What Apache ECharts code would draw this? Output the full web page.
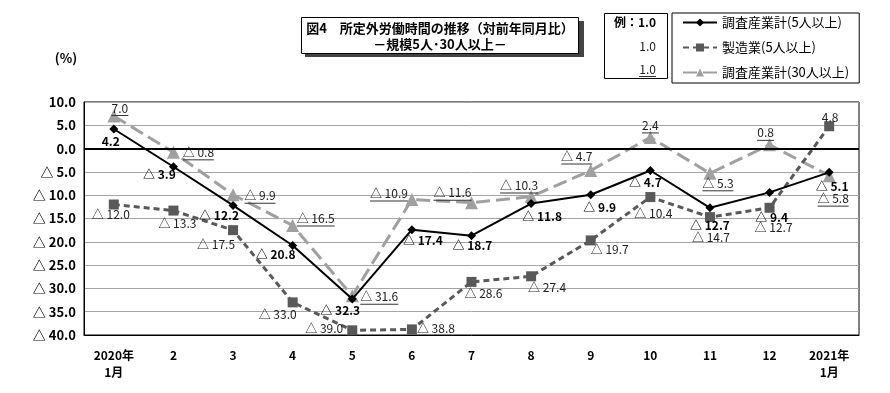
<!DOCTYPE html>
<html><head><meta charset="utf-8">
<script src="https://cdn.jsdelivr.net/npm/echarts@6/dist/echarts.min.js"></script>
<style>html,body{margin:0;padding:0;background:#fff}#c{width:890px;height:393px}</style>
</head><body><div id="c"></div>
<script>
const categories = ['2020年\n1月','2','3','4','5','6','7','8','9','10','11','12','2021年\n1月'];
const seriesNames = ['調査産業計(5人以上)','製造業(5人以上)','調査産業計(30人以上)'];
const s1 = [4.2,-3.9,-12.2,-20.8,-32.3,-17.4,-18.7,-11.8,-9.9,-4.7,-12.7,-9.4,-5.1];
const s2 = [-12.0,-13.3,-17.5,-33.0,-39.0,-38.8,-28.6,-27.4,-19.7,-10.4,-14.7,-12.7,4.8];
const s3 = [7.0,-0.8,-9.9,-16.5,-31.6,-10.9,-11.6,-10.3,-4.7,2.4,-5.3,0.8,-5.8];
const yMin = -40, yMax = 10, yStep = 5;

// label placement (offset from point, px)
const off1 = [[-3,12],[-14,8],[-14,10],[-17,9],[-12,11],[11,11],[1,10],[11,13],[9,13],[-5,12],[0,18],[2,25],[3,14]];
const off2 = [[-3,10],[4,13],[-17,14],[-15,12],[-28,-2],[24,-1],[12,12],[16,11],[19,9],[3,16],[1,20],[4,20],[1,-9]];
const off3 = [[6,-8],[25,0],[27,1],[23,-7],[27,1],[-23,-6],[-19,-10],[-12,-11],[-14,-14],[0,-12],[8,10],[-4,-12],[4,23]];

const FF = "'Liberation Sans Narrow','Noto Sans CJK JP',sans-serif";
const fmt = v => v < 0 ? '△ ' + Math.abs(v).toFixed(1) : v.toFixed(1);
const ctx = document.createElement('canvas').getContext('2d');
function tw(t, font){ ctx.font = font; return ctx.measureText(t).width; }

const d1 = s1.map((v,i)=>({value:v,label:{offset:off1[i]}}));
const d2 = s2.map((v,i)=>({value:v,label:{offset:off2[i]}}));
const d3 = s3.map((v,i)=>({value:v,label:{offset:[off3[i][0],off3[i][1]+1],
  rich:{u:{width:Math.round(tw(fmt(v),'12px '+FF)),height:1,lineHeight:2,backgroundColor:'#333'}}}}));

const chart = echarts.init(document.getElementById('c'));
chart.setOption({
  animation:false,
  textStyle:{fontFamily:FF},
  grid:{left:84,right:31,top:102,bottom:58,show:true,borderColor:'#000',borderWidth:1,backgroundColor:'#fff'},
  legend:{left:672,top:13,orient:'vertical',itemGap:12,itemWidth:34,itemHeight:10,
    borderColor:'#000',borderWidth:1,padding:[3,10,4,10],backgroundColor:'#fff',
    textStyle:{fontSize:13,color:'#000',fontFamily:FF},data:seriesNames},
  xAxis:{type:'category',data:categories,boundaryGap:true,
    axisLine:{onZero:false,lineStyle:{color:'#000'}},axisTick:{show:false},
    axisLabel:{interval:0,color:'#000',fontSize:12,fontWeight:'bold',margin:12,lineHeight:17}},
  yAxis:{type:'value',min:yMin,max:yMax,interval:yStep,
    axisLine:{show:true,lineStyle:{color:'#000'}},axisTick:{show:false},
    axisLabel:{color:'#000',fontSize:13,fontWeight:'bold',margin:8,formatter:v=>fmt(v)},
    splitLine:{lineStyle:{color:'#a6a6a6',width:1}}},
  series:[
    {name:seriesNames[2],type:'line',data:d3,z:2,symbol:'triangle',symbolSize:13,
      itemStyle:{color:'#a0a0a0'},lineStyle:{color:'#a0a0a0',width:3,type:[14,6]},
      label:{show:true,position:'inside',color:'#222',fontSize:12,
        formatter:p=>'{t|'+fmt(p.value)+'}\n{u|}',rich:{t:{fontSize:12,color:'#222',lineHeight:13}}}},
    {name:seriesNames[1],type:'line',data:d2,z:3,symbol:'rect',symbolSize:10,
      itemStyle:{color:'#595959'},lineStyle:{color:'#595959',width:3,type:[6,4]},
      label:{show:true,position:'inside',color:'#222',fontSize:12,formatter:p=>fmt(p.value)}},
    {name:seriesNames[0],type:'line',data:d1,z:4,symbol:'diamond',symbolSize:9,
      itemStyle:{color:'#000'},lineStyle:{color:'#000',width:2},
      label:{show:true,position:'inside',color:'#000',fontSize:12,fontWeight:'bold',formatter:p=>fmt(p.value)},
      markLine:{silent:true,symbol:'none',label:{show:false},lineStyle:{color:'#000',width:2,type:'solid'},data:[{yAxis:0}]}}
  ],
  graphic:[
    {type:'rect',shape:{x:305,y:21,width:279,height:36},style:{fill:'#444'},z:10},
    {type:'rect',shape:{x:301.5,y:17.5,width:277,height:36},style:{fill:'#fff',stroke:'#000',lineWidth:1},z:11},
    {type:'text',x:440,y:28,z:12,style:{text:'図4　所定外労働時間の推移（対前年同月比）',fill:'#000',font:'bold 13px '+FF,textAlign:'center',textVerticalAlign:'middle'}},
    {type:'text',x:440,y:44,z:12,style:{text:'－規模5人･30人以上－',fill:'#000',font:'bold 13px '+FF,textAlign:'center',textVerticalAlign:'middle'}},
    {type:'rect',shape:{x:604.5,y:13.5,width:63,height:65},style:{fill:'#fff',stroke:'#000',lineWidth:1},z:10},
    {type:'text',x:656,y:22,z:12,style:{text:'例：1.0',fill:'#000',font:'bold 12px '+FF,textAlign:'right',textVerticalAlign:'middle'}},
    {type:'text',x:656,y:46,z:12,style:{text:'1.0',fill:'#222',font:'12px '+FF,textAlign:'right',textVerticalAlign:'middle'}},
    {type:'text',x:656,y:69,z:12,style:{text:'1.0',fill:'#222',font:'12px '+FF,textAlign:'right',textVerticalAlign:'middle'}},
    {type:'rect',shape:{x:656-Math.round(tw('1.0','12px '+FF)),y:76,width:Math.round(tw('1.0','12px '+FF)),height:1},style:{fill:'#333'},z:12},
    {type:'text',x:66,y:58,z:12,style:{text:'(%)',fill:'#000',font:'bold 13px '+FF,textAlign:'center',textVerticalAlign:'middle'}}
  ]
});
</script></body></html>
